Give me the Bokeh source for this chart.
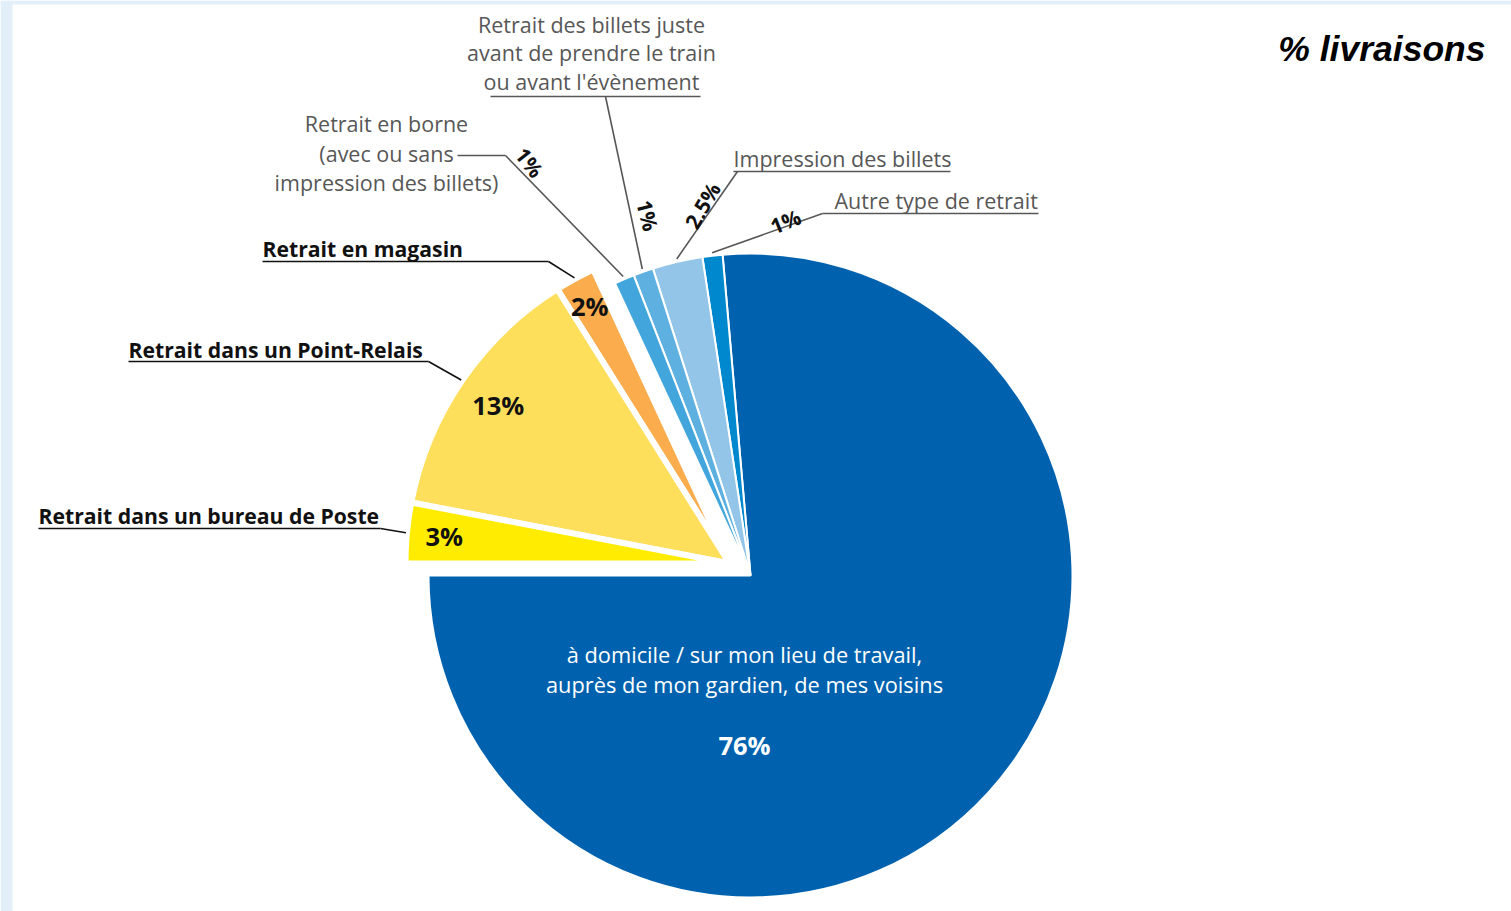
import numpy as np
from bokeh.plotting import figure
from bokeh.models import Range1d, ColumnDataSource
from bokeh.core.properties import value
from bokeh.embed import file_html
from bokeh.resources import INLINE

# ---------------- data ----------------
categories = [
    "à domicile / sur mon lieu de travail, auprès de mon gardien, de mes voisins",
    "Autre type de retrait",
    "Impression des billets",
    "Retrait des billets juste avant de prendre le train ou avant l'évènement",
    "Retrait en borne (avec ou sans impression des billets)",
    "Retrait en magasin",
    "Retrait dans un Point-Relais",
    "Retrait dans un bureau de Poste",
]
values = [76, 1, 2.5, 1, 1, 2, 13, 3]
pct_labels = ["76%", "1%", "2.5%", "1%", "1%", "2%", "13%", "3%"]
colors = ["#0062ae", "#0088cf", "#93c5e9", "#5db0e0", "#42a6dc",
          "#fbad4e", "#fedf5b", "#ffec00"]
exploded = [False, False, False, False, False, True, True, True]
title_text = "% livraisons"

# ---------------- layout ----------------
W, H = 1511, 911
def Y(py):
    return H - py

CX, CY = 750, Y(575)
R = 322
EX, EY = -21, 12          # offset of the exploded group

vals = np.array(values, dtype=float)
span = vals / vals.sum() * 2 * np.pi
start = np.pi + np.concatenate([[0], np.cumsum(span)[:-1]])
end = start + span
mid = (start + end) / 2
ox = np.array([EX if e else 0 for e in exploded], dtype=float)
oy = np.array([EY if e else 0 for e in exploded], dtype=float)

p = figure(width=W, height=H, x_range=Range1d(0, W), y_range=Range1d(0, H),
           output_backend="svg", toolbar_location=None, min_border=0)
p.axis.visible = False
p.grid.visible = False
p.outline_line_color = None
p.background_fill_color = "white"
p.border_fill_color = "white"

# faint light-blue strips at the left and top edges
p.quad(left=[0, 0], right=[12, W], bottom=[0, Y(4)], top=[H, H],
       fill_color="#e2eff8", line_color=None)

src_all = dict(x=CX + ox, y=CY + oy, start=start, end=end, color=colors, cat=categories)
idx_n = [i for i, e in enumerate(exploded) if not e]
idx_e = [i for i, e in enumerate(exploded) if e]
src_n = ColumnDataSource({k: [v[i] for i in idx_n] for k, v in src_all.items()})
src_e = ColumnDataSource({k: [v[i] for i in idx_e] for k, v in src_all.items()})

p.wedge(x="x", y="y", radius=R, start_angle="start", end_angle="end",
        fill_color="color", line_color="white", line_width=2, source=src_n)
p.wedge(x="x", y="y", radius=R + 2, start_angle="start", end_angle="end",
        fill_color="color", line_color="white", line_width=6, source=src_e)

FONT = value("Open Sans")
GRAY = "#575757"
BLACK = "#111111"

# ---- callout labels ----
def txt(x, y, t, size, color, align="left", style="normal", angle=0.0, font=FONT):
    p.text(x=[x], y=[Y(y)], text=[t], text_font=font, text_font_size=size,
           text_color=color, text_align=align, text_baseline="middle",
           text_font_style=style, angle=angle)

# gray multi-line labels
for t, yy in zip(["Retrait des billets juste", "avant de prendre le train", "ou avant l'évènement"],
                 [24, 52, 81]):
    txt(591, yy, t, "21.5px", GRAY, align="center")
for t, yy in zip(["Retrait en borne", "(avec ou sans", "impression des billets)"],
                 [123, 153, 182]):
    txt(386, yy, t, "21.5px", GRAY, align="center")
txt(733, 158, "Impression des billets", "21.5px", GRAY)
txt(834, 200, "Autre type de retrait", "21.5px", GRAY)

# bold black labels
txt(262, 248, "Retrait en magasin", "21.2px", BLACK, style="bold")
txt(128, 349, "Retrait dans un Point-Relais", "21.2px", BLACK, style="bold")
txt(38, 515, "Retrait dans un bureau de Poste", "21.2px", BLACK, style="bold")

# underlines / leader knees  (category index -> (x0, x1, y, knee_x, color))
under = {
    1: (822, 1038, 213, 822, GRAY),
    2: (733, 950, 171, 737, GRAY),
    3: (490, 700, 96, 605, GRAY),
    4: (457, 505, 155, 505, GRAY),
    5: (262, 548, 261, 548, BLACK),
    6: (128, 428, 361, 428, BLACK),
    7: (38, 380, 528, 380, BLACK),
}
for i, (x0, x1, yy, kx, col) in under.items():
    p.segment(x0=[x0], y0=[Y(yy)], x1=[x1], y1=[Y(yy)], line_color=col, line_width=1.6)
    ex = CX + ox[i] + (R + 3) * np.cos(mid[i])
    ey = CY + oy[i] + (R + 3) * np.sin(mid[i])
    p.segment(x0=[kx], y0=[Y(yy)], x1=[ex], y1=[ey], line_color=col, line_width=1.6)

# small rotated percentages on leaders
rot = {1: (785, 221, 22), 2: (702, 205, 60), 3: (647, 215, -76), 4: (529, 162, -52)}
for i, (xx, yy, a) in rot.items():
    txt(xx, yy, pct_labels[i], "21px", BLACK, align="center", style="bold",
        angle=np.radians(a))

# percentages inside exploded slices
rfrac = {5: 0.91, 6: 0.87, 7: 0.89}
for i, f in rfrac.items():
    lx = CX + ox[i] + f * R * np.cos(mid[i])
    ly = CY + oy[i] + f * R * np.sin(mid[i])
    p.text(x=[lx], y=[ly], text=[pct_labels[i]], text_font=FONT, text_font_size="25.5px",
           text_color=BLACK, text_align="center", text_baseline="middle",
           text_font_style="bold")

# main slice text
txt(744, 654, "à domicile / sur mon lieu de travail,", "21.8px", "white", align="center")
txt(744, 684, "auprès de mon gardien, de mes voisins", "21.8px", "white", align="center")
txt(744, 744, pct_labels[0], "25.5px", "white", align="center", style="bold")

# title
txt(1485, 48, title_text, "35.5px", "black", align="right", style="bold italic",
    font=value("Liberation Sans"))

open("out.html", "w").write(file_html(p, INLINE))
